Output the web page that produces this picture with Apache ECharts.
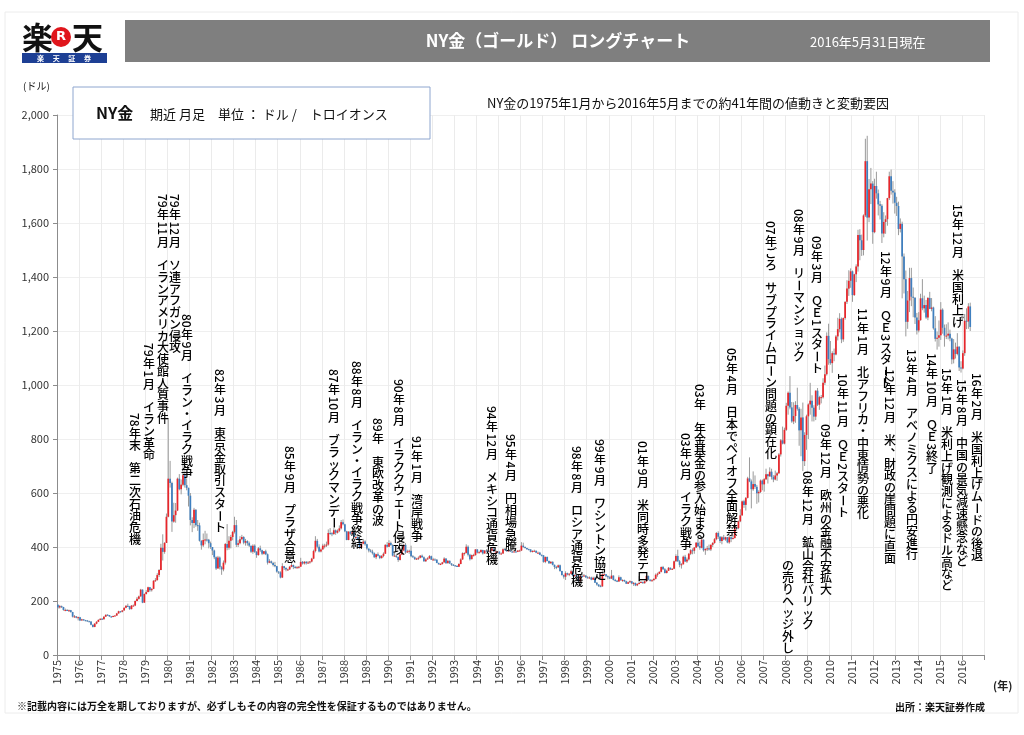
<!DOCTYPE html>
<html><head><meta charset="utf-8">
<script src="https://cdn.jsdelivr.net/npm/echarts@6.0.0/dist/echarts.min.js"></script>
<style>html,body{margin:0;padding:0;background:#fff}#c{width:1024px;height:735px}</style>
</head><body><div id="c"></div>
<script>
// ---- DATA (monthly, Jan 1975 - May 2016) ----
const firstOpen = 186;
const closes = [
176,181,178,167,167,165,166,159,142,143,138,140,
128,132,129,128,125,124,112,104,116,123,130,134,
132,142,149,148,143,141,144,146,154,162,160,165,
175,182,181,170,183,183,200,208,217,242,194,226,
233,251,240,245,275,277,296,315,397,382,415,512,
653,637,494,518,535,653,614,631,666,629,619,590,
500,489,538,481,480,423,406,426,428,427,414,400,
387,362,320,361,325,317,342,411,397,423,437,456,
481,408,414,429,437,416,422,414,405,382,405,382,
370,395,388,375,384,373,342,347,341,333,329,309,
306,287,329,322,317,317,327,333,326,325,325,327,
345,339,345,340,343,346,357,385,423,401,383,391,
405,405,409,452,451,448,462,453,460,469,492,484,
458,426,457,449,455,437,437,427,397,412,420,410,
394,387,383,377,362,373,368,359,367,375,408,401,
415,407,368,368,363,352,372,387,408,380,384,386,
366,362,355,357,360,368,362,347,354,358,366,353,
354,353,341,336,337,343,357,340,349,339,334,332,
330,327,337,354,377,378,401,371,355,370,370,391,
379,381,389,376,387,385,383,386,394,383,383,383,
375,376,392,389,384,387,383,382,383,382,387,387,
405,400,396,392,391,382,385,386,379,379,371,369,
345,363,348,340,345,334,326,325,332,311,296,290,
303,298,301,310,293,296,288,273,293,292,294,288,
287,287,279,286,268,261,255,254,299,299,292,288,
283,294,278,275,272,288,277,278,273,264,269,273,
265,267,258,263,267,270,266,273,293,279,275,277,
282,297,301,308,326,318,304,312,323,317,319,347,
367,347,334,336,364,346,354,375,388,386,398,416,
403,397,427,388,393,395,391,408,415,429,452,438,
422,436,428,436,417,436,430,433,473,470,495,517,
569,556,582,654,643,614,633,623,599,604,646,632,
651,669,662,679,659,650,665,673,743,795,783,834,
923,971,917,865,885,926,912,832,880,718,815,884,
928,942,916,883,979,927,955,955,1008,1040,1182,1096,
1081,1118,1113,1180,1207,1245,1169,1248,1308,1357,1386,1421,
1333,1410,1439,1556,1536,1500,1628,1829,1620,1725,1746,1566,
1737,1710,1669,1664,1561,1604,1614,1692,1773,1719,1713,1675,
1663,1578,1597,1476,1392,1234,1313,1396,1327,1323,1250,1202,
1240,1321,1284,1296,1250,1322,1282,1287,1210,1171,1175,1184,
1279,1212,1183,1183,1190,1172,1095,1132,1115,1142,1065,1061,
1118,1238,1235,1291,1215
];
const highs = [
187,185,183,178,172,170,168,167,160,148,144,142,
141,134,133,130,129,127,125,113,118,125,132,136,
137,144,150,151,148,144,146,147,156,164,163,166,
176,184,190,182,185,187,202,215,220,245,243,228,
240,253,252,247,277,285,303,318,412,447,418,524,
873,719,642,564,563,657,670,650,722,690,654,620,
600,510,545,540,500,490,425,450,460,450,430,420,
400,390,365,367,365,330,350,415,485,440,445,460,
512,500,425,440,445,440,430,425,420,405,410,410,
385,400,405,390,385,390,376,355,350,345,345,330,
310,310,340,330,325,320,330,342,335,330,330,330,
360,348,348,348,348,348,360,390,440,430,410,395,
412,412,420,465,470,455,470,465,465,480,500,502,
486,460,458,460,462,460,445,440,430,415,430,425,
412,395,392,390,380,375,380,370,370,380,410,418,
425,420,410,380,375,365,375,415,412,415,390,390,
405,370,365,360,365,370,372,365,358,362,370,368,
360,358,355,342,340,345,362,358,351,350,340,337,
333,333,340,358,380,380,410,406,375,372,375,392,
392,386,392,390,388,392,388,388,398,396,390,385,
384,380,395,396,390,390,389,385,386,386,388,390,
418,416,402,397,394,392,388,390,387,383,382,372,
370,365,365,350,348,347,335,330,335,335,312,298,
310,305,303,316,312,299,297,290,298,300,300,296,
292,291,290,290,290,270,262,260,318,338,300,295,
292,315,295,282,278,295,290,280,279,275,272,276,
274,270,268,266,292,275,272,276,295,294,280,281,
284,302,305,310,328,330,322,316,326,324,322,350,
373,390,352,340,368,371,361,378,392,395,400,418,
430,420,430,428,395,404,409,410,418,433,455,458,
440,440,445,438,437,444,440,445,477,476,498,540,
572,575,585,660,732,650,680,665,630,610,650,650,
655,690,671,695,690,666,683,678,748,800,846,842,
934,976,1033,937,936,940,990,918,912,935,825,890,
932,1008,962,925,980,989,960,963,1025,1072,1195,1227,
1163,1125,1135,1185,1249,1266,1250,1250,1310,1388,1425,1432,
1424,1412,1447,1575,1577,1557,1632,1912,1923,1763,1804,1755,
1764,1790,1724,1682,1670,1640,1628,1693,1790,1798,1755,1725,
1697,1679,1617,1605,1487,1424,1348,1434,1434,1361,1325,1267,
1270,1338,1392,1331,1315,1326,1345,1322,1290,1255,1198,1239,
1307,1284,1224,1225,1232,1205,1175,1170,1157,1192,1143,1088,
1128,1263,1284,1303,1305
];
const lows = [
171,172,174,164,162,163,160,157,139,138,136,128,
126,127,127,125,123,122,110,102,103,114,122,129,
130,131,141,146,141,138,140,143,145,153,157,158,
164,173,178,167,169,180,181,199,205,216,192,193,
224,232,234,235,244,271,276,289,314,350,375,415,
510,620,456,490,490,533,610,595,625,620,610,550,
480,455,470,475,460,420,390,400,410,420,395,393,
370,355,315,320,317,297,310,335,388,390,395,425,
450,400,400,410,425,410,405,405,400,378,375,378,
360,368,382,370,372,370,335,340,338,328,325,305,
300,284,285,315,310,312,315,325,318,320,320,320,
327,335,335,335,338,338,343,355,380,395,380,380,
390,395,400,405,445,440,445,445,450,455,465,480,
455,425,425,445,445,435,430,425,392,395,410,405,
390,380,380,372,360,355,365,355,357,362,375,398,
400,405,365,365,360,345,350,370,385,375,378,375,
362,360,352,352,352,358,360,345,345,353,356,352,
350,350,340,335,333,335,342,338,339,337,330,330,
328,326,326,336,352,368,376,365,350,354,365,368,
376,377,380,372,375,382,380,378,385,382,380,377,
372,372,374,388,383,383,382,380,381,380,381,384,
385,397,394,390,388,380,380,384,377,377,370,365,
342,340,347,337,337,332,318,318,322,308,294,283,
278,295,292,300,290,288,285,272,271,287,290,285,
283,283,277,278,267,257,252,252,253,295,288,280,
281,282,276,272,270,271,275,271,270,263,263,266,
262,256,255,255,262,266,264,264,270,277,272,272,
276,280,290,300,306,315,302,302,311,315,315,318,
345,345,325,320,335,344,341,350,370,373,375,396,
400,390,395,383,371,385,387,385,400,412,425,430,
415,410,425,423,414,412,418,428,432,460,466,492,
516,545,535,580,640,543,608,615,560,565,600,610,
605,648,635,660,650,640,647,645,670,735,780,780,
830,890,910,860,855,860,905,775,736,681,700,760,
800,890,865,865,870,922,908,932,950,1000,1035,1075,
1075,1045,1088,1110,1165,1195,1155,1160,1242,1300,1330,1360,
1308,1330,1381,1420,1462,1478,1480,1622,1535,1603,1670,1523,
1562,1690,1628,1613,1526,1547,1560,1590,1685,1705,1672,1635,
1626,1555,1565,1321,1339,1180,1208,1270,1292,1251,1226,1187,
1195,1238,1277,1268,1245,1240,1281,1273,1205,1161,1131,1142,
1167,1190,1142,1170,1169,1162,1077,1080,1098,1110,1052,1046,
1058,1108,1207,1208,1200
];
const yearLabels = ['1975','1976','1977','1978','1979','1980','1981','1982','1983','1984','1985','1986','1987','1988','1989','1990','1991','1992','1993','1994','1995','1996','1997','1998','1999','2000','2001','2002','2003','2004','2005','2006','2007','2008','2009','2010','2011','2012','2013','2014','2015','2016'];
const annTexts = [
'78年末　第二次石油危機','79年1月　イラン革命','79年11月　イランアメリカ大使館人質事件','79年12月　ソ連アフガン侵攻',
'80年9月　イラン・イラク戦争','82年3月　東京金取引スタート','85年9月　プラザ合意','87年10月　ブラックマンデー',
'88年8月　イラン・イラク戦争終結','89年　東欧改革の波','90年8月　イラククウェート侵攻','91年1月　湾岸戦争',
'94年12月　メキシコ通貨危機','95年4月　円相場急騰','98年8月　ロシア通貨危機','99年9月　ワシントン協定',
'01年9月　米同時多発テロ','03年　年金基金の参入始まる','03年3月　イラク戦争','05年4月　日本でペイオフ全面解禁',
'07年ごろ　サブプライムローン問題の顕在化','08年9月　リーマンショック','09年3月　ＱＥ1スタート','08年12月　鉱山会社バリック',
'の売りヘッジ外し','09年12月　欧州の金融不安拡大','10年11月　ＱＥ2スタート','11年1月　北アフリカ・中東情勢の悪化',
'12年9月　ＱＥ3スタート','12年12月　米、財政の崖問題に直面','13年4月　アベノミクスによる円安進行','14年10月　ＱＥ3終了',
'15年1月　米利上げ観測によるドル高など','15年8月　中国の景気減速懸念など','15年12月　米国利上げ','16年2月　米国利上げムードの後退'
];
// ---- LAYOUT of annotation columns (pixel centre x, top y) ----
const annLayout = [
[135,412],[149,342],[163,193],[175,193],
[187,313],[220,368],[290,445],[334,368],
[357,360],[378,417],[399,378],[417,435],
[492,405],[511,433],[577,445],[600,438],
[643,440],[700,383],[686,432],[732,347],
[771,220],[799,208],[817,235],[808,470],
[788,560],[826,423],[843,372],[863,307],
[886,250],[890,368],[912,348],[932,352],
[947,367],[962,378],[958,203],[977,372]
];

const FONT = '"Noto Sans CJK JP", "Noto Sans", sans-serif';
const RED = '#e8262b', BLUE = '#3f7fbf', WICK = '#9a9a9a';

const mctx = document.createElement('canvas').getContext('2d');
function vtext(str, cx, top, fs) {
  const font = '500 ' + fs + 'px ' + FONT;
  mctx.font = font;
  const out = [];
  const mk = (t, x, y, rot) => ({type:'text', x:x, y:y, rotation:rot||0, silent:true, z:50,
    style:{text:t, fill:'#000', font:font, align:'center', verticalAlign:'middle', textAlign:'center', textVerticalAlign:'middle'}});
  let y = top;
  const chars = Array.from(str);
  let i = 0;
  const adv = fs * 0.98;
  while (i < chars.length) {
    const ch = chars[i];
    if (/[0-9A-Za-z]/.test(ch)) {
      let run = ch; i++;
      while (i < chars.length && /[0-9A-Za-z]/.test(chars[i])) { run += chars[i]; i++; }
      const w = mctx.measureText(run).width;
      out.push(mk(run, cx, y + w / 2 + 1, -Math.PI / 2));
      y += w + 2;
      continue;
    }
    i++;
    if (ch === '　') { y += adv; continue; }
    if (ch === ' ') { y += adv * 0.5; continue; }
    if (ch === 'ー' || ch === '－' || ch === '〜') { out.push(mk(ch, cx, y + adv / 2, -Math.PI / 2)); y += adv; continue; }
    if (ch === '、' || ch === '。') { out.push(mk(ch, cx + fs * 0.55, y + adv / 2 - fs * 0.5)); y += adv; continue; }
    out.push(mk(ch, cx, y + adv / 2));
    y += adv;
  }
  return out;
}

const ohlc = closes.map((c, i) => [i + 0.5, i === 0 ? firstOpen : closes[i - 1], c, lows[i], highs[i]]);

function renderItem(params, api) {
  const x = api.value(0), o = api.value(1), c = api.value(2), l = api.value(3), h = api.value(4);
  const pL = api.coord([x, l]), pH = api.coord([x, h]), pO = api.coord([x, o]), pC = api.coord([x, c]);
  const w = api.size([1, 0])[0] * 0.95;
  const top = Math.min(pO[1], pC[1]);
  const hgt = Math.max(Math.abs(pO[1] - pC[1]), 1);
  return {type:'group', children:[
    {type:'line', shape:{x1:pL[0], y1:pL[1], x2:pH[0], y2:pH[1]}, style:{stroke:WICK, lineWidth:1}},
    {type:'rect', shape:{x:pO[0] - w / 2, y:top, width:w, height:hgt}, style:{fill: c >= o ? RED : BLUE}}
  ]};
}

let graphics = [
  {type:'rect', shape:{x:5, y:12, width:1013, height:701}, style:{fill:'none', stroke:'#ececec', lineWidth:1}, silent:true},
  // logo
  {type:'text', x:22, y:37, style:{text:'楽', fill:'#111', font:'bold 31px ' + FONT, verticalAlign:'middle', textVerticalAlign:'middle'}},
  {type:'circle', shape:{cx:61, cy:37, r:10}, style:{fill:'#e0161c'}},
  {type:'text', x:61, y:37, style:{text:'R', fill:'#fff', font:'bold 13px "DejaVu Sans", sans-serif', align:'center', verticalAlign:'middle', textAlign:'center', textVerticalAlign:'middle'}},
  {type:'text', x:72, y:37, style:{text:'天', fill:'#111', font:'bold 31px ' + FONT, verticalAlign:'middle', textVerticalAlign:'middle'}},
  {type:'rect', shape:{x:22, y:53, width:85, height:10}, style:{fill:'#1d3f94'}},
  {type:'text', x:64, y:58, style:{text:'楽　 天　 証　 券', fill:'#fff', font:'bold 7px ' + FONT, align:'center', verticalAlign:'middle', textAlign:'center', textVerticalAlign:'middle'}},
  // title bar
  {type:'rect', shape:{x:125, y:20, width:865, height:42}, style:{fill:'#7f7f7f'}},
  {type:'text', x:558, y:41, style:{text:'NY金（ゴールド） ロングチャート', fill:'#fff', font:'bold 17px ' + FONT, align:'center', verticalAlign:'middle', textAlign:'center', textVerticalAlign:'middle'}},
  {type:'text', x:810, y:42, style:{text:'2016年5月31日現在', fill:'#fff', font:'13px ' + FONT, verticalAlign:'middle', textVerticalAlign:'middle'}},
  // unit
  {type:'text', x:23, y:86, style:{text:'(ドル)', fill:'#222', font:'10px ' + FONT, verticalAlign:'middle', textVerticalAlign:'middle'}},
  // legend box
  {type:'rect', shape:{x:73, y:87, width:357, height:52}, style:{fill:'#fff', stroke:'#8ea6cf', lineWidth:1}, z:40},
  {type:'text', x:96, y:113, z:41, style:{text:'NY金', fill:'#111', font:'bold 16px ' + FONT, verticalAlign:'middle', textVerticalAlign:'middle'}},
  {type:'text', x:150, y:114, z:41, style:{text:'期近 月足　単位 ： ドル /　トロイオンス', fill:'#111', font:'13px ' + FONT, verticalAlign:'middle', textVerticalAlign:'middle'}},
  // subtitle
  {type:'text', x:487, y:103, style:{text:'NY金の1975年1月から2016年5月までの約41年間の値動きと変動要因', fill:'#111', font:'13px ' + FONT, verticalAlign:'middle', textVerticalAlign:'middle'}},
  // axis unit and footer
  {type:'text', x:993, y:686, style:{text:'(年)', fill:'#222', font:'bold 11px ' + FONT, verticalAlign:'middle', textVerticalAlign:'middle'}},
  {type:'text', x:17, y:706, style:{text:'※記載内容には万全を期しておりますが、必ずしもその内容の完全性を保証するものではありません。', fill:'#111', font:'bold 10px ' + FONT, verticalAlign:'middle', textVerticalAlign:'middle'}},
  {type:'text', x:985, y:707, style:{text:'出所：楽天証券作成', fill:'#111', font:'bold 10px ' + FONT, align:'right', textAlign:'right', verticalAlign:'middle', textVerticalAlign:'middle'}}
];
annTexts.forEach((t, k) => { graphics = graphics.concat(vtext(t, annLayout[k][0], annLayout[k][1], 12)); });

const chart = echarts.init(document.getElementById('c'));
chart.setOption({
  animation: false,
  textStyle: {fontFamily: FONT},
  grid: {left:57, right:40, top:115, bottom:80, containLabel:false},
  xAxis: {
    type:'value', min:0, max:504, interval:12,
    axisLine:{show:true, onZero:false, lineStyle:{color:'#8c8c8c'}},
    axisTick:{show:true, length:5, lineStyle:{color:'#8c8c8c'}},
    axisLabel:{rotate:90, fontSize:11, color:'#333', margin:5, fontFamily:FONT,
      formatter: v => yearLabels[Math.round(v / 12)] || ''},
    splitLine:{show:true, lineStyle:{color:'#ebebeb'}}
  },
  yAxis: {
    type:'value', min:0, max:2000, interval:200,
    axisLine:{show:true, lineStyle:{color:'#8c8c8c'}},
    axisTick:{show:true, length:4, lineStyle:{color:'#8c8c8c'}},
    axisLabel:{fontSize:11, color:'#333', margin:8, fontFamily:FONT, formatter: v => v.toLocaleString('en-US')},
    splitLine:{show:true, lineStyle:{color:'#efefef'}}
  },
  series: [{type:'custom', renderItem: renderItem, data: ohlc, encode:{x:0, y:[1,2,3,4]}, clip:true, z:5}],
  graphic: graphics
});
</script></body></html>
